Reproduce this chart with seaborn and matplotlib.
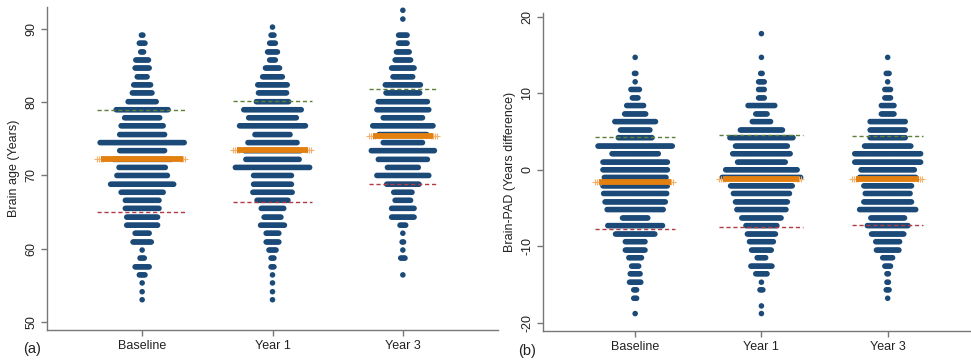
import numpy as np
import pandas as pd
import seaborn as sns
import matplotlib.pyplot as plt

groups = ['Baseline', 'Year 1', 'Year 3']

# (a) brain age: bin centres of the dot rows and dots per row
bins_age = [53.0, 54.1, 55.3, 56.4, 57.5, 58.7, 59.8, 60.9, 62.1, 63.2, 64.3, 65.5,
            66.6, 67.7, 68.8, 70.0, 71.1, 72.2, 73.4, 74.5, 75.6, 76.8, 77.9, 79.0,
            80.1, 81.3, 82.4, 83.5, 84.7, 85.8, 86.9, 88.1, 89.2, 90.3, 91.4, 92.6]
age_baseline = [1, 1, 1, 5, 11, 4, 1, 14, 11, 23, 23, 25, 25, 31, 46, 37, 34, 42,
                33, 61, 33, 31, 26, 38, 21, 15, 13, 8, 11, 10, 3, 5, 2, 0, 0, 0]
age_year1 = [1, 1, 1, 1, 3, 3, 6, 10, 10, 18, 13, 17, 23, 29, 28, 28, 54, 39,
             41, 36, 26, 48, 35, 42, 24, 21, 22, 15, 11, 5, 8, 5, 3, 1, 0, 0]
age_year3 = [0, 0, 0, 1, 0, 4, 1, 2, 1, 5, 17, 17, 12, 14, 24, 38, 23, 36,
             46, 29, 35, 44, 29, 38, 36, 25, 26, 15, 17, 12, 10, 7, 7, 0, 1, 1]
age_mean = [72.2, 73.5, 75.45]
age_sd_hi = [78.95, 80.15, 81.8]
age_sd_lo = [65.0, 66.4, 68.9]

# (b) brain-PAD
bins_pad = [-18.8, -17.8, -16.8, -15.7, -14.7, -13.6, -12.6, -11.5, -10.5, -9.4,
            -8.4, -7.3, -6.3, -5.2, -4.2, -3.1, -2.1, -1.0, 0.0, 1.0, 2.1, 3.1,
            4.2, 5.2, 6.3, 7.3, 8.4, 9.4, 10.5, 11.5, 12.6, 13.6, 14.7, 15.7, 16.8, 17.8]
pad_baseline = [1, 0, 3, 3, 9, 8, 6, 10, 15, 15, 29, 40, 19, 41, 44, 46, 47, 45,
                47, 47, 34, 54, 25, 22, 30, 16, 13, 5, 7, 1, 2, 0, 1, 0, 0, 0]
pad_year1 = [1, 1, 0, 3, 1, 9, 16, 7, 15, 18, 21, 23, 29, 36, 38, 41, 45, 57,
             52, 35, 42, 38, 46, 31, 14, 9, 20, 5, 5, 5, 2, 0, 1, 0, 0, 1]
pad_year3 = [0, 0, 1, 3, 2, 2, 5, 8, 17, 18, 24, 30, 25, 41, 35, 33, 35, 41,
             39, 48, 48, 34, 26, 26, 26, 10, 10, 5, 5, 1, 3, 0, 1, 0, 0, 0]
pad_mean = [-1.6, -1.2, -1.2]
pad_sd_hi = [4.27, 4.58, 4.36]
pad_sd_lo = [-7.8, -7.45, -7.19]

navy = '#1b4a78'
orange = '#e3800f'
green = '#5e7f37'
red = '#b23a44'
grey = '#777777'

sns.set_style('ticks')
plt.rcParams['font.family'] = ['Liberation Sans', 'DejaVu Sans']

fig = plt.figure(figsize=(9.71, 3.62), dpi=100)
ax1 = fig.add_axes([47 / 971, 32 / 362, 451 / 971, 323 / 362])
ax2 = fig.add_axes([543 / 971, 31 / 362, 428 / 971, 318 / 362])


def dotplot(ax, bins, counts, means, hi, lo, xlim, ylim, ylabel, ticks):
    px = ax.get_position().width * fig.get_figwidth() * fig.dpi / (xlim[1] - xlim[0])
    step = 1.4 / px
    rows = []
    for i, c in enumerate(counts):
        for b, n in zip(bins, c):
            for j in range(n):
                rows.append((i + (j - (n - 1) / 2) * step, b))
    df = pd.DataFrame(rows, columns=['x', 'y'])
    sns.scatterplot(data=df, x='x', y='y', ax=ax, color=navy, s=16,
                    linewidth=0, edgecolor='none', zorder=2)

    for i, c in enumerate(counts):
        half = (max(c) - 1) / 2 * step + 2.75 / px
        # solid mean bar, '+' markers showing at its ends
        xs = np.arange(i - half, i + half, 2 / px)
        ends = np.abs(xs - i) > half - 7 / px
        ax.plot(xs[ends], [means[i]] * ends.sum(), '+', color='#f3b06a', ms=5,
                mew=0.8, zorder=3)
        ax.plot([i - half + 4 / px, i + half - 4 / px], [means[i]] * 2, color=orange,
                lw=4.2, solid_capstyle='butt', zorder=3)
        ax.plot([i - half, i + half], [hi[i]] * 2, color=green, lw=1,
                dashes=(3, 2), zorder=4)
        ax.plot([i - half, i + half], [lo[i]] * 2, color=red, lw=1,
                dashes=(3, 2), zorder=4)

    ax.set_xlim(xlim)
    ax.set_ylim(ylim)
    ax.set_xticks([0, 1, 2])
    ax.set_xticklabels(groups, fontsize=9, color='#222222')
    ax.set_yticks(ticks)
    ax.set_yticklabels([str(t) for t in ticks], fontsize=9, color='#222222',
                       rotation=90, va='center')
    ax.set_xlabel('')
    ax.set_ylabel(ylabel, fontsize=9, color='#222222', labelpad=4)
    ax.tick_params(length=4, width=1, color=grey, pad=3)
    sns.despine(ax=ax)
    for sp in ['left', 'bottom']:
        ax.spines[sp].set_color(grey)
        ax.spines[sp].set_linewidth(1)


dotplot(ax1, bins_age, [age_baseline, age_year1, age_year3], age_mean,
        age_sd_hi, age_sd_lo, (-0.73, 2.73), (48.86, 93.05),
        'Brain age (Years)', [50, 60, 70, 80, 90])
dotplot(ax2, bins_pad, [pad_baseline, pad_year1, pad_year3], pad_mean,
        pad_sd_hi, pad_sd_lo, (-0.73, 2.66), (-21.08, 20.5),
        'Brain-PAD (Years difference)', [-20, -10, 0, 10, 20])

fig.text(23 / 971, 1 - 349 / 362, '(a)', fontsize=10.5, color='#222222', va='center')
fig.text(518 / 971, 1 - 351 / 362, '(b)', fontsize=10.5, color='#222222', va='center')

fig.savefig('out.png', dpi=100)
